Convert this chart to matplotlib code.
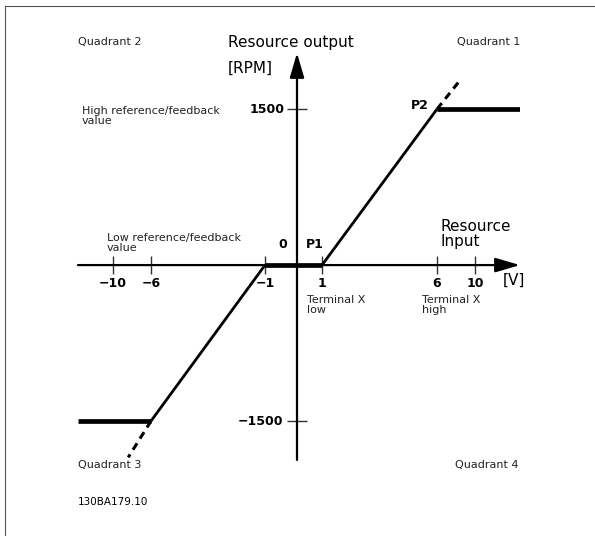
import numpy as np
import matplotlib
matplotlib.use("Agg")
import matplotlib.pyplot as plt
from matplotlib.lines import Line2D

# data
x_ticks = [-10, -6, -1, 1, 6, 10]
x_tick_labels = ["\u221210", "\u22126", "\u22121", "1", "6", "10"]
y_ticks = [1500, -1500]
y_tick_labels = ["1500", "\u22121500"]
x_min, x_max = -14, 14
# characteristic: low ref -1500 at -6V, dead band -1..1V, high ref 1500 at 6V
slope_pos_x = [1, 6]
slope_pos_y = [0, 1500]
slope_neg_x = [-6, -1]
slope_neg_y = [-1500, 0]
dash_pos_x = [6, 8.55]
dash_pos_y = [1500, 1792]
dash_neg_x = [-6, -8.4]
dash_neg_y = [-1500, -1850]
dead_x = [-1, 1]
dead_y = [0, 0]

# schematic (non-uniform) x axis
xv = [-14, -10, -6, -1, 0, 1, 6, 10, 14]
xp = [78, 113, 151, 265, 297, 322, 437, 475, 520]

def fwd(v):
    return np.interp(v, xv, xp)

def inv(p):
    return np.interp(p, xp, xv)

W, H = 595, 536
fig = plt.figure(figsize=(W / 100, H / 100), dpi=100)
plt.rcParams['font.family'] = ['DejaVu Sans']

ax = fig.add_axes([78 / W, 1 - 460 / H, 442 / W, 407 / H])
ax.set_xscale('function', functions=(fwd, inv))
ax.set_xlim(x_min, x_max)
ax.set_ylim(-1875, 2040)
ax.axis('off')

# axes with arrows
arr = dict(arrowstyle='-|>,head_length=0.75,head_width=0.22', color='black',
           lw=1.6, mutation_scale=20, shrinkA=0, shrinkB=0)
ax.annotate('', xy=(x_max, 0), xytext=(x_min, 0), arrowprops=arr)
ax.annotate('', xy=(0, 2040), xytext=(0, -1875), arrowprops=arr)

# ticks
ax.plot(x_ticks, [0] * len(x_ticks), ls='none', marker='|', ms=13, mew=1, color='#333333')
ax.plot([0] * len(y_ticks), y_ticks, ls='none', marker='_', ms=14, mew=1, color='#333333')

# characteristic
ax.plot(slope_pos_x, slope_pos_y, color='black', lw=2, solid_capstyle='butt')
ax.plot(slope_neg_x, slope_neg_y, color='black', lw=2, solid_capstyle='butt')
ax.plot(dash_pos_x, dash_pos_y, color='black', lw=2.2, ls=(0, (2.5, 1.8)))
ax.plot(dash_neg_x, dash_neg_y, color='black', lw=2.2, ls=(0, (2.5, 1.8)))
ax.plot([6, x_max], [1500, 1500], color='black', lw=3.4, solid_capstyle='butt')
ax.plot([x_min, -6], [-1500, -1500], color='black', lw=3.4, solid_capstyle='butt')
ax.plot(dead_x, dead_y, color='black', lw=3.4, solid_capstyle='butt')

# tick labels
for v, s in zip(x_ticks, x_tick_labels):
    ax.annotate(s, (v, 0), xytext=(0, -18), textcoords='offset pixels',
                ha='center', va='center', fontsize=9, fontweight='bold')
ax.annotate(y_tick_labels[0], (0, 1500), xytext=(-12, 0), textcoords='offset pixels',
            ha='right', va='center', fontsize=9, fontweight='bold')
ax.annotate(y_tick_labels[1], (0, -1500), xytext=(-14, 0), textcoords='offset pixels',
            ha='right', va='center', fontsize=9, fontweight='bold')
ax.annotate('0', (0, 0), xytext=(-14, 21), textcoords='offset pixels',
            ha='center', va='center', fontsize=9, fontweight='bold')
ax.annotate('P1', (1, 0), xytext=(-7, 21), textcoords='offset pixels',
            ha='center', va='center', fontsize=9, fontweight='bold')
ax.annotate('P2', (6, 1500), xytext=(-17, 4), textcoords='offset pixels',
            ha='center', va='center', fontsize=9, fontweight='bold')


def ftext(x, y, s, **kw):
    kw.setdefault('fontsize', 8)
    kw.setdefault('color', '#222222')
    fig.text(x / W, 1 - y / H, s, ha=kw.pop('ha', 'left'), va=kw.pop('va', 'center'), **kw)


ftext(78, 42, "Quadrant 2")
ftext(457, 42, "Quadrant 1")
ftext(78, 465, "Quadrant 3")
ftext(455, 465, "Quadrant 4")
ftext(228, 43, "Resource output", fontsize=11, color='black')
ftext(228, 68, "[RPM]", fontsize=11, color='black')
ftext(440, 234, "Resource\nInput", fontsize=11, color='black', linespacing=1.05)
ftext(503, 280, "[V]", fontsize=11, color='black')
ftext(82, 116, "High reference/feedback\nvalue", linespacing=1.12)
ftext(107, 243, "Low reference/feedback\nvalue", linespacing=1.12)
ftext(307, 305, "Terminal X\nlow", linespacing=1.12)
ftext(422, 305, "Terminal X\nhigh", linespacing=1.12)
ftext(78, 502, "130BA179.10", fontsize=7.5, color='black')

# frame
fig.add_artist(Line2D([4.5 / W, 4.5 / W], [0, 1 - 5.5 / H], transform=fig.transFigure,
                      color='#555555', lw=0.8))
fig.add_artist(Line2D([4.5 / W, 1], [1 - 5.5 / H, 1 - 5.5 / H], transform=fig.transFigure,
                      color='#555555', lw=0.8))

fig.savefig('out.png', dpi=100)
